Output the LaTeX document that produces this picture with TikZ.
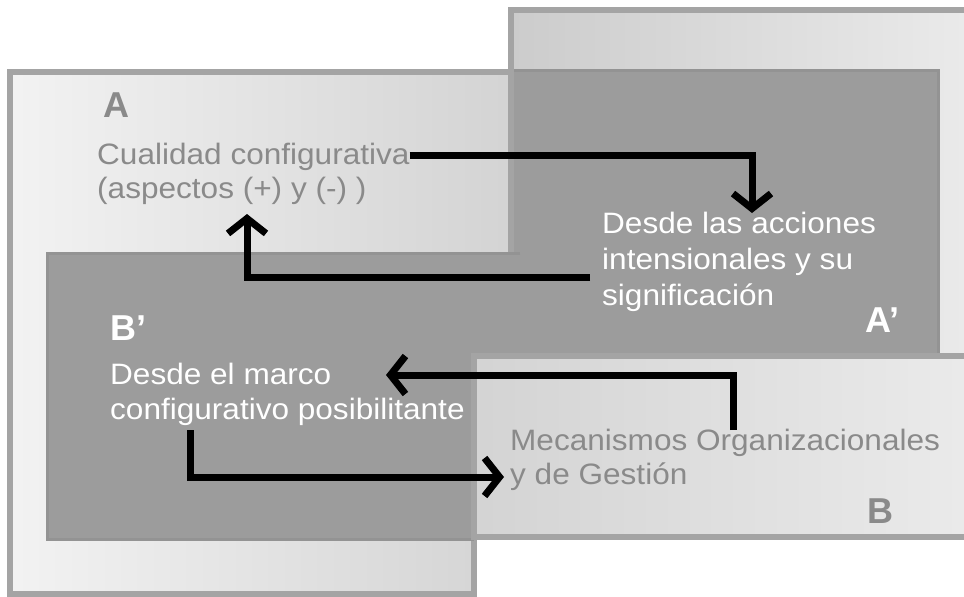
\documentclass[tikz,border=0pt]{standalone}
\usepackage{fontspec}
\newfontfamily\figfont[FakeStretch=1.07]{Liberation Sans}
\newfontfamily\labfont{Liberation Sans}
\usetikzlibrary{arrows.meta}
\definecolor{borderc}{HTML}{A4A4A4}
\definecolor{darkc}{HTML}{9C9C9C}
\definecolor{darkedge}{HTML}{939393}
\definecolor{greytext}{HTML}{8A8A8A}
\begin{document}
\begin{tikzpicture}[x=1pt,y=-1pt,
  frame/.style={draw=borderc, line width=6pt},
  darkbox/.style={fill=darkc, draw=darkedge, line width=3pt},
  txt/.style={font=\figfont\fontsize{29.5}{35}\selectfont, anchor=base west, inner sep=0pt},
  bigletter/.style={anchor=base west, inner sep=0pt, font=\labfont\bfseries\fontsize{36}{40}\selectfont},
  greyt/.style={text=greytext},
  whitet/.style={text=white},
  flow/.style={line width=7pt, -{Straight Barb[length=15pt,width=38pt]}}
]
\useasboundingbox (0,0) rectangle (964,597);
\fill[white] (0,0) rectangle (964,597);
% top-right light frame
\shade[left color=black!20, right color=black!8] (511,10) rectangle (975,537);
\draw[frame] (975,10) -- (511,10) -- (511,537) -- (975,537);
% A' dark box
\draw[darkbox] (511,70) rectangle (938,357);
% A light frame
\shade[left color=black!5, right color=black!17] (10,72) -- (511,72) -- (511,300) -- (474,300) -- (474,594) -- (10,594) -- cycle;
\draw[frame] (511,300) -- (511,72) -- (10,72) -- (10,594) -- (474,594) -- (474,300);
% B' dark box
\fill[darkc] (47,253) rectangle (520,539);
\draw[darkedge, line width=3pt] (520,253) -- (47,253) -- (47,539) -- (474,539);
% B light frame
\shade[left color=black!17, right color=black!8] (474,356) rectangle (975,537);
\draw[frame] (975,356) -- (474,356) -- (474,537) -- (975,537);

% labels
\node[bigletter, greyt] (labA) at (103,117) {A};
\node[txt, greyt] (cual1) at (97,164) {Cualidad configurativa};
\node[txt, greyt] (cual2) at (97,198) {(aspectos (+) y (-) )};

\node[txt, whitet] (acc1) at (602,233) {Desde las acciones};
\node[txt, whitet] (acc2) at (602,269) {intensionales y su};
\node[txt, whitet] (acc3) at (602,305) {significación};
\node[bigletter, whitet] (labAp) at (865,332) {A’};

\node[bigletter, whitet] (labBp) at (110,340) {B’};
\node[txt, whitet] (marco1) at (110,384) {Desde el marco};
\node[txt, whitet] (marco2) at (110,419) {configurativo posibilitante};

\node[txt, greyt] (mec1) at (510,450) {Mecanismos Organizacionales};
\node[txt, greyt] (mec2) at (510,484) {y de Gestión};
\node[bigletter, greyt] (labB) at (867,523) {B};

% connector end points
\coordinate (a1s) at (cual1.east |- 0,155);
\coordinate (a1t) at (752,213);
\coordinate (a2s) at (590,277);
\coordinate (a2t) at (247,214);
\coordinate (a3s) at (733,430);
\coordinate (a3t) at (386,375);
\coordinate (a4s) at (190,430);
\coordinate (a4t) at (504,477);

\draw[flow] (a1s) -| (a1t);
\draw[flow] (a2s) -| (a2t);
\draw[flow] (a3s) |- (a3t);
\draw[flow] (a4s) |- (a4t);
\end{tikzpicture}
\end{document}
